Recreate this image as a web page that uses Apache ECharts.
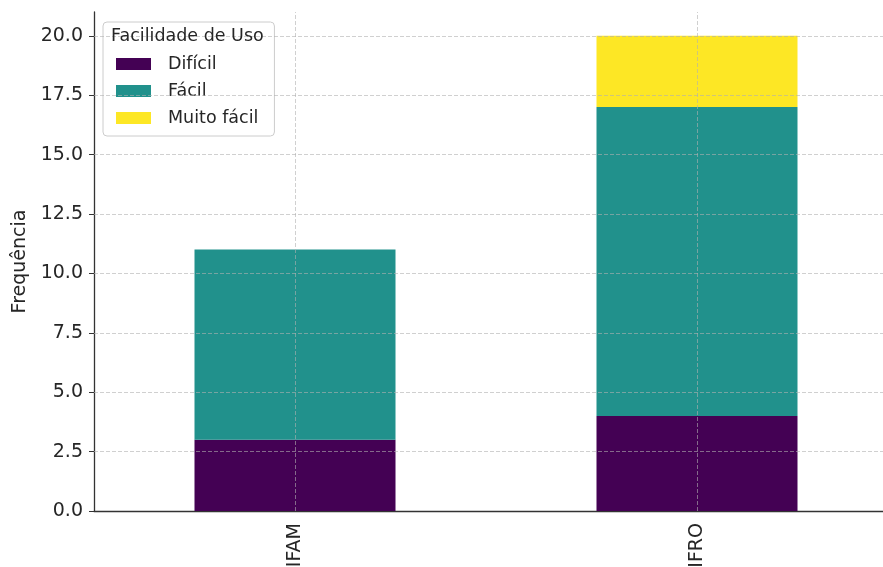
<!DOCTYPE html>
<html>
<head>
<meta charset="utf-8">
<script src="https://cdn.jsdelivr.net/npm/echarts@6/dist/echarts.min.js"></script>
<style>
  html, body { margin: 0; padding: 0; background: #fff; overflow: hidden; }
  #chart { width: 883px; height: 567px; }
</style>
</head>
<body>
<div id="chart"></div>
<script>
// dados do gráfico
var categorias = ["IFAM", "IFRO"];
var dificil = [3, 4];
var facil = [8, 13];
var muitoFacil = [0, 3];
var nomesSeries = ["Difícil", "Fácil", "Muito fácil"];
var cores = ["#440154", "#21918c", "#fde725"];
var ticksY = [0, 2.5, 5, 7.5, 10, 12.5, 15, 17.5, 20];

var fonte = "DejaVu Sans";
var corTexto = "#262626";
var corGrade = "rgba(176,176,176,0.6)";
var estiloGrade = { color: corGrade, type: [4, 2], width: 1 };

var chart = echarts.init(document.getElementById("chart"));

var option = {
    animation: false,
    textStyle: { fontFamily: fonte },
    title: {
        text: "Facilidade de Uso",
        left: 111,
        top: 27,
        padding: 0,
        textStyle: { fontFamily: fonte, fontSize: 17.5, fontWeight: "normal", color: corTexto }
    },
    legend: {
        data: nomesSeries,
        orient: "vertical",
        left: 103,
        top: 22,
        padding: [33, 16, 9, 13],
        itemWidth: 35,
        itemHeight: 12,
        itemGap: 9,
        icon: "rect",
        backgroundColor: "rgba(255,255,255,0.8)",
        borderColor: "#cccccc",
        borderWidth: 1,
        borderRadius: 4,
        textStyle: { fontFamily: fonte, fontSize: 17.5, color: corTexto, padding: [0, 0, 0, 12] }
    },
    grid: {
        left: 94,
        top: 12,
        width: 804,
        height: 499,
        containLabel: false,
        outerBoundsMode: "none"
    },
    xAxis: {
        type: "category",
        data: categorias,
        axisLine: { lineStyle: { color: "#333", width: 1.3 } },
        axisTick: { alignWithLabel: true, length: 5, lineStyle: { color: "#333" } },
        axisLabel: { rotate: 90, margin: 12, fontSize: 19, color: corTexto, fontFamily: fonte },
        splitLine: { show: false }
    },
    yAxis: {
        type: "value",
        min: 0,
        max: 21,
        name: "Frequência",
        nameLocation: "middle",
        nameGap: 59,
        nameTextStyle: { fontSize: 19, color: corTexto, fontFamily: fonte },
        axisLine: { show: true, lineStyle: { color: "#333", width: 1.3 } },
        axisTick: { show: true, length: 5, customValues: ticksY, lineStyle: { color: "#333" } },
        axisLabel: {
            margin: 11,
            fontSize: 19,
            color: corTexto,
            fontFamily: fonte,
            customValues: ticksY,
            formatter: function (v) { return v.toFixed(1); }
        },
        splitLine: { show: false }
    },
    series: [
        {
            name: nomesSeries[0],
            type: "bar",
            stack: "total",
            barWidth: "50%",
            itemStyle: { color: cores[0] },
            data: dificil,
            // linhas horizontais da grade por cima das barras
            markLine: {
                silent: true,
                symbol: "none",
                z: 5,
                label: { show: false },
                lineStyle: estiloGrade,
                data: ticksY.slice(1).map(function (v) { return { yAxis: v }; })
            }
        },
        {
            name: nomesSeries[1],
            type: "bar",
            stack: "total",
            barWidth: "50%",
            itemStyle: { color: cores[1] },
            data: facil
        },
        {
            name: nomesSeries[2],
            type: "bar",
            stack: "total",
            barWidth: "50%",
            itemStyle: { color: cores[2] },
            data: muitoFacil,
            // linhas verticais da grade por cima das barras
            markLine: {
                silent: true,
                symbol: "none",
                z: 5,
                label: { show: false },
                lineStyle: estiloGrade,
                data: categorias.map(function (c) { return { xAxis: c }; })
            }
        }
    ]
};

chart.setOption(option);
</script>
</body>
</html>
